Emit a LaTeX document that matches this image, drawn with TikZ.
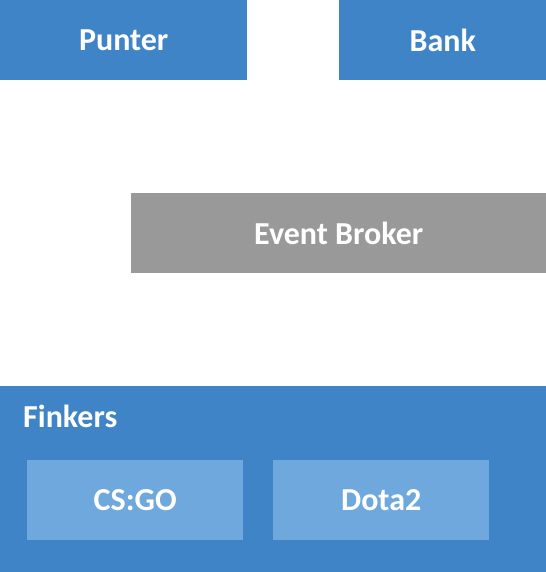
\documentclass[tikz,border=0pt]{standalone}
\usepackage{fontspec}
\setmainfont{Carlito}
\definecolor{boxblue}{HTML}{3E84C7}
\definecolor{lightblue}{HTML}{6FA8DC}
\definecolor{boxgray}{HTML}{999999}
\begin{document}
\begin{tikzpicture}[x=1bp,y=-1bp,
  lbl/.style={text=white,font=\fontsize{32bp}{38bp}\selectfont\bfseries},
  blk/.style={lbl,rectangle,inner sep=0pt,anchor=north west}]
\useasboundingbox (0,0) rectangle (546,572);
\node[blk,fill=boxblue,minimum width=247bp,minimum height=80bp] (punter) at (0,0) {Punter};
\node[blk,fill=boxblue,minimum width=207bp,minimum height=80bp] (bank) at (339,0) {Bank};
\node[blk,fill=boxgray,minimum width=415bp,minimum height=80bp] (broker) at (131,193) {Event Broker};
\node[blk,fill=boxblue,minimum width=546bp,minimum height=186bp] (finkers) at (0,386) {};
\node[lbl,anchor=west,inner sep=0pt] (finkerslbl) at (23,416) {Finkers};
\node[blk,fill=lightblue,minimum width=216bp,minimum height=80bp] (csgo) at (27,460) {CS:GO};
\node[blk,fill=lightblue,minimum width=216bp,minimum height=80bp] (dota) at (273,460) {Dota2};
\end{tikzpicture}
\end{document}
